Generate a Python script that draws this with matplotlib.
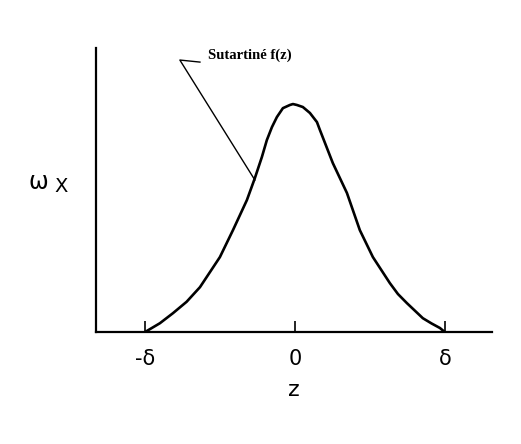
import numpy as np
import matplotlib.pyplot as plt

# curve (z in units of delta, omega_x normalised to the peak)
z = [-1.0, -0.9, -0.813, -0.722, -0.633, -0.5, -0.413, -0.32, -0.267, -0.22,
     -0.187, -0.153, -0.12, -0.08, -0.033, -0.013, 0.013, 0.053, 0.1, 0.147,
     0.167, 0.253, 0.347, 0.433, 0.52, 0.633, 0.687, 0.747, 0.853, 0.911, 0.967, 1.0]
w = [0.0, 0.039, 0.083, 0.133, 0.197, 0.329, 0.447, 0.579, 0.675, 0.768,
     0.842, 0.899, 0.943, 0.982, 0.996, 1.0, 0.996, 0.987, 0.961, 0.921,
     0.886, 0.741, 0.61, 0.447, 0.329, 0.215, 0.167, 0.127, 0.061, 0.038, 0.018, 0.0]
tick_pos = [-1, 0, 1]
tick_lab = ['-δ', '0', 'δ']

fnt = ['Liberation Sans Narrow', 'DejaVu Sans']

fig = plt.figure(figsize=(5.21, 4.44), dpi=100)
ax = fig.add_axes([0.184, 0.252, 0.76, 0.64])

ax.plot(z, w, color='black', lw=1.9, solid_joinstyle='round')

ax.set_xlim(-1.327, 1.313)
ax.set_ylim(0, 1.246)

for s in ['top', 'right']:
    ax.spines[s].set_visible(False)
ax.spines['left'].set_linewidth(1.6)
ax.spines['bottom'].set_linewidth(1.6)

ax.set_xticks(tick_pos)
ax.set_xticklabels(tick_lab, family=fnt, fontsize=15)
ax.tick_params(axis='x', direction='in', length=8, width=1.2, pad=12)
ax.set_yticks([])

ax.set_xlabel('z', family=fnt, fontsize=16, labelpad=8)
fig.text(0.055, 0.59, 'ω', family=fnt, fontsize=17, ha='left', va='center')
fig.text(0.105, 0.58, 'X', family=fnt, fontsize=14, ha='left', va='center')

# leader line to the curve
ax.plot([-0.633, -0.767, -0.267], [1.184, 1.193, 0.667], color='black', lw=1.0)
ax.text(-0.58, 1.215, 'Sutartiné f(z)', family='Liberation Serif', fontweight='bold',
        fontsize=10.5, va='center', ha='left')

fig.savefig('out.png', dpi=100)
